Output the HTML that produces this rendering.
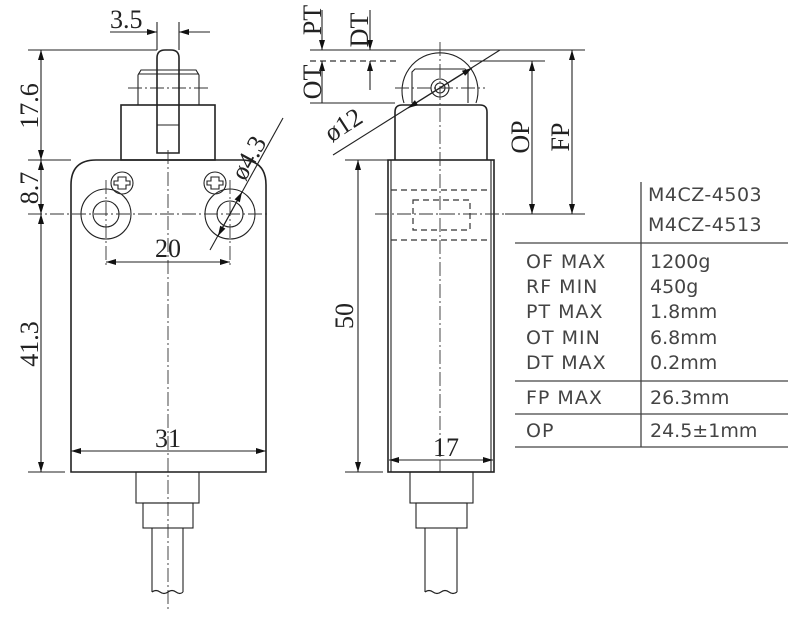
<!DOCTYPE html>
<html><head><meta charset="utf-8"><style>
body{margin:0;background:#fff}
svg{display:block}
.s{stroke:#222;stroke-width:1.6;fill:none}
.t{stroke:#222;stroke-width:1.1;fill:none}
.c{stroke:#333;stroke-width:.9;fill:none;stroke-dasharray:14 3 2 3}
.d{stroke:#333;stroke-width:1.2;fill:none;stroke-dasharray:6 4}
.n{font-family:"Liberation Serif",serif;font-size:26px;fill:#222}
.tb{font-family:"DejaVu Sans","Liberation Sans",sans-serif;font-size:19px;fill:#444}
</style></head><body>
<svg width="800" height="625" viewBox="0 0 800 625" xmlns="http://www.w3.org/2000/svg">
<defs>
<marker id="a" viewBox="0 0 10 6" refX="10" refY="3" markerWidth="11" markerHeight="6" orient="auto-start-reverse" markerUnits="userSpaceOnUse"><path d="M0,0L10,3L0,6z" fill="#111"/></marker>
</defs>
<!-- LEFT VIEW -->
<path class="s" d="M71,472V185Q71,160 96,160H241Q266,160 266,185V472Z"/>
<rect class="s" x="121" y="105" width="94" height="55"/>
<path class="t" d="M138,105V75L141,70H196L199,75V105"/>
<line class="t" x1="138" y1="74" x2="199" y2="74"/>
<line class="c" x1="128" y1="88" x2="208" y2="88"/>
<path class="s" d="M157,153V58Q157,50 165,50H171Q179,50 179,58V153Z" fill="#fff"/>
<line class="t" x1="157" y1="125" x2="179" y2="125"/>
<circle class="t" cx="106" cy="214" r="25"/><circle class="t" cx="106" cy="214" r="13"/>
<circle class="t" cx="230" cy="214" r="25"/><circle class="t" cx="230" cy="214" r="13"/>
<circle class="t" cx="122" cy="183" r="11" fill="#fff"/><circle class="t" cx="215" cy="183" r="11" fill="#fff"/>
<path class="t" d="M118,177h8v4h4v4h-4v4h-8v-4h-4v-4h4z"/>
<path class="t" d="M211,177h8v4h4v4h-4v4h-8v-4h-4v-4h4z"/>
<line class="c" x1="168" y1="150" x2="168" y2="610"/>
<line class="c" x1="28" y1="214" x2="270" y2="214"/>
<line class="c" x1="106" y1="180" x2="106" y2="268"/>
<line class="c" x1="230" y1="180" x2="230" y2="268"/>
<!-- dims left -->
<line class="t" x1="28" y1="50" x2="157" y2="50"/>
<line class="t" x1="28" y1="160" x2="71" y2="160"/>
<line class="t" x1="28" y1="472" x2="65" y2="472"/>
<line class="t" x1="41" y1="50" x2="41" y2="160" marker-start="url(#a)" marker-end="url(#a)"/>
<line class="t" x1="41" y1="160" x2="41" y2="214" marker-start="url(#a)" marker-end="url(#a)"/>
<line class="t" x1="41" y1="214" x2="41" y2="472" marker-start="url(#a)" marker-end="url(#a)"/>
<text class="n" transform="translate(38,106) rotate(-90)" text-anchor="middle">17.6</text>
<text class="n" transform="translate(38,188) rotate(-90)" text-anchor="middle">8.7</text>
<text class="n" transform="translate(38,344) rotate(-90)" text-anchor="middle">41.3</text>
<line class="t" x1="157" y1="22" x2="157" y2="50"/><line class="t" x1="179" y1="22" x2="179" y2="50"/>
<line class="t" x1="110" y1="32" x2="157" y2="32" marker-end="url(#a)"/>
<line class="t" x1="210" y1="32" x2="179" y2="32" marker-end="url(#a)"/>
<text class="n" x="110" y="28">3.5</text>
<line class="t" x1="106" y1="262" x2="230" y2="262" marker-start="url(#a)" marker-end="url(#a)"/>
<text class="n" x="168" y="257" text-anchor="middle">20</text>
<line class="t" x1="71" y1="451" x2="266" y2="451" marker-start="url(#a)" marker-end="url(#a)"/>
<text class="n" x="168" y="447" text-anchor="middle">31</text>
<line class="t" x1="210" y1="250" x2="283" y2="118"/>
<line class="t" x1="218" y1="236" x2="242" y2="192" marker-start="url(#a)" marker-end="url(#a)"/>
<text class="n" transform="translate(256,162) rotate(-61)" text-anchor="middle">ø4.3</text>
<rect class="t" x="136" y="472" width="63" height="31"/>
<rect class="t" x="143" y="503" width="50" height="25"/>
<path class="t" d="M152,528V592M183,528V592M152,592q4,-3 8,0t8,0t8,0t7,0"/>
<!-- RIGHT VIEW -->
<rect class="s" x="388" y="160" width="106" height="312"/>
<line class="t" x1="391" y1="160" x2="391" y2="472"/><line class="t" x1="491" y1="160" x2="491" y2="472"/>
<path class="s" d="M395,160V112Q395,105 402,105H480Q487,105 487,112V160"/>
<path class="t" d="M404,103A38,38 0 1 1 476,103"/>
<path class="t" d="M412,103V72L415,69H465L468,72V103"/>
<circle class="t" cx="440" cy="88" r="9"/><circle class="t" cx="440" cy="88" r="5"/>
<line class="c" x1="440" y1="42" x2="440" y2="472"/>
<line class="c" x1="395" y1="88" x2="485" y2="88"/>
<line class="d" x1="391" y1="190" x2="491" y2="190"/>
<line class="d" x1="391" y1="240" x2="491" y2="240"/>
<rect class="d" x="413" y="200" width="57" height="30"/>
<line class="c" x1="375" y1="214" x2="505" y2="214"/>
<line class="t" x1="505" y1="214" x2="585" y2="214"/>
<line class="t" x1="310" y1="50" x2="585" y2="50"/>
<line class="d" x1="310" y1="61" x2="400" y2="61"/>
<line class="t" x1="470" y1="61" x2="545" y2="61"/>
<line class="t" x1="310" y1="103" x2="395" y2="103"/>
<line class="t" x1="322" y1="10" x2="322" y2="50" marker-end="url(#a)"/>
<line class="t" x1="322" y1="103" x2="322" y2="61" marker-end="url(#a)"/>
<line class="t" x1="370" y1="10" x2="370" y2="50" marker-end="url(#a)"/>
<line class="t" x1="370" y1="90" x2="370" y2="61" marker-end="url(#a)"/>
<text class="n" transform="translate(321,20) rotate(-90)" text-anchor="middle">PT</text>
<text class="n" transform="translate(368,30) rotate(-90)" text-anchor="middle">DT</text>
<text class="n" transform="translate(321,82) rotate(-90)" text-anchor="middle">OT</text>
<line class="t" x1="532" y1="61" x2="532" y2="214" marker-start="url(#a)" marker-end="url(#a)"/>
<line class="t" x1="572" y1="50" x2="572" y2="214" marker-start="url(#a)" marker-end="url(#a)"/>
<text class="n" transform="translate(529,137) rotate(-90)" text-anchor="middle">OP</text>
<text class="n" transform="translate(569,137) rotate(-90)" text-anchor="middle">FP</text>
<line class="t" x1="333" y1="155" x2="500" y2="50"/>
<line class="t" x1="408" y1="108" x2="472" y2="68" marker-start="url(#a)" marker-end="url(#a)"/>
<text class="n" transform="translate(348,132) rotate(-33)" text-anchor="middle">ø12</text>
<line class="t" x1="345" y1="160" x2="388" y2="160"/>
<line class="t" x1="345" y1="472" x2="383" y2="472"/>
<line class="t" x1="358" y1="160" x2="358" y2="472" marker-start="url(#a)" marker-end="url(#a)"/>
<text class="n" transform="translate(353,316) rotate(-90)" text-anchor="middle">50</text>
<line class="t" x1="389" y1="460" x2="493" y2="460" marker-start="url(#a)" marker-end="url(#a)"/>
<text class="n" x="446" y="456" text-anchor="middle">17</text>
<rect class="t" x="410" y="472" width="63" height="31"/>
<rect class="t" x="416" y="503" width="51" height="25"/>
<path class="t" d="M425,528V592M457,528V592M425,592q4,-3 8,0t8,0t8,0t8,0"/>
<!-- TABLE -->
<g stroke="#444" stroke-width="1.3">
<line x1="641" y1="182" x2="641" y2="447"/>
<line x1="515" y1="243" x2="788" y2="243"/>
<line x1="515" y1="381" x2="788" y2="381"/>
<line x1="515" y1="414" x2="788" y2="414"/>
<line x1="515" y1="447" x2="788" y2="447"/>
</g>
<g class="tb">
<text x="648" y="201" letter-spacing="0.5">M4CZ-4503</text>
<text x="648" y="231" letter-spacing="0.5">M4CZ-4513</text>
<text x="526" y="268" letter-spacing="1">OF MAX</text><text x="650" y="268">1200g</text>
<text x="526" y="293" letter-spacing="1">RF MIN</text><text x="650" y="293">450g</text>
<text x="526" y="318" letter-spacing="1">PT MAX</text><text x="650" y="318">1.8mm</text>
<text x="526" y="344" letter-spacing="1">OT MIN</text><text x="650" y="344">6.8mm</text>
<text x="526" y="369" letter-spacing="1">DT MAX</text><text x="650" y="369">0.2mm</text>
<text x="526" y="404" letter-spacing="1">FP MAX</text><text x="650" y="404">26.3mm</text>
<text x="526" y="437" letter-spacing="1">OP</text><text x="650" y="437">24.5±1mm</text>
</g>
</svg>
</body></html>
